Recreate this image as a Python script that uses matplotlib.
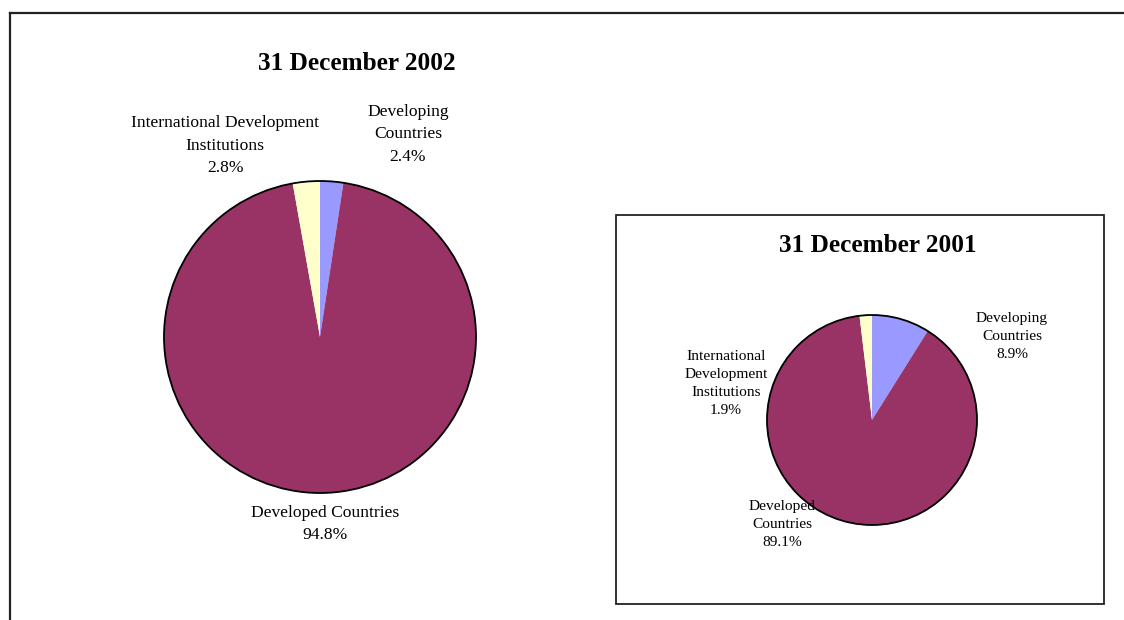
import matplotlib.pyplot as plt
from matplotlib.patches import Circle, Rectangle

# ===============================
#  Data
# ===============================

categories = ["Developing Countries", "Developed Countries",
              "International Development Institutions"]
share_2002 = [2.4, 94.8, 2.8]
share_2001 = [8.9, 89.1, 1.9]
slice_colors = ["#9999FF", "#993366", "#FFFFCC"]

W, H = 1124, 620


def flip(y):
    # work in top-down pixel units
    return H - y


def draw_pie(ax, values, cx, cy, r):
    ax.pie(values, colors=slice_colors, startangle=90, counterclock=False,
           center=(cx, flip(cy)), radius=r,
           wedgeprops=dict(linewidth=0, antialiased=True))
    ax.add_patch(Circle((cx, flip(cy)), r, fill=False, edgecolor="black",
                        linewidth=1.3, zorder=5))


def main() -> None:
    plt.rcParams["font.family"] = ["Liberation Serif", "DejaVu Serif"]

    fig = plt.figure(figsize=(W / 100, H / 100), dpi=100)
    ax = fig.add_axes([0, 0, 1, 1])

    # outer frame (top + left edges)
    ax.plot([9.5, W], [flip(12.5), flip(12.5)], color="#222222", lw=1.6)
    ax.plot([9.5, 9.5], [flip(12.5), 0], color="#222222", lw=1.6)

    big = dict(ha="center", va="center", fontsize=12.6, linespacing=1.52)
    small = dict(ha="center", va="center", fontsize=11.1, linespacing=1.48)

    # 2002 pie
    draw_pie(ax, share_2002, 320, 337, 156)
    ax.text(357, flip(64), "31 December 2002", ha="center", va="center",
            fontsize=18.2, fontweight="bold")
    ax.text(408, flip(134.5), f"Developing\nCountries\n{share_2002[0]:.1f}%",
            **big)
    ax.text(225, flip(145.5),
            f"International Development\nInstitutions\n{share_2002[2]:.1f}%",
            **big)
    ax.text(325, flip(524), f"Developed Countries\n{share_2002[1]:.1f}%",
            **big)

    # 2001 pie in its own box
    ax.add_patch(Rectangle((616, flip(604)), 1104 - 616, 604 - 215,
                           fill=False, edgecolor="#222222", lw=1.3))
    draw_pie(ax, share_2001, 872, 420, 105)
    ax.text(878, flip(246), "31 December 2001", ha="center", va="center",
            fontsize=18.2, fontweight="bold")
    ax.text(1012, flip(336.5), f"Developing\nCountries\n{share_2001[0]:.1f}%",
            **small)
    ax.text(726, flip(383.5),
            f"International\nDevelopment\nInstitutions\n{share_2001[2]:.1f}%",
            **small)
    ax.text(782, flip(524.5), f"Developed\nCountries\n{share_2001[1]:.1f}%",
            **small)

    ax.set_xlim(0, W)
    ax.set_ylim(0, H)
    ax.set_aspect("equal")
    ax.axis("off")

    fig.savefig("out.png", dpi=100, facecolor="white")
    plt.close(fig)


if __name__ == "__main__":
    main()
